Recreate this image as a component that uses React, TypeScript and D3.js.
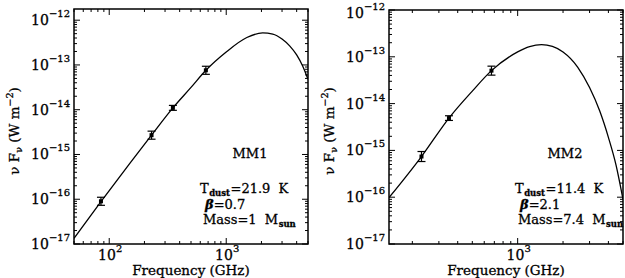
import React from "react";
import * as d3 from "d3";

// MM1 measured points (GHz, W m^-2) and error half-widths in dex
const MM1_FREQ = [85, 230, 350, 670];
const MM1_FLUX = [9e-17, 2.7e-15, 1.1e-14, 7.6e-14];
const MM1_ERR_DEX = [0.09, 0.09, 0.055, 0.09];

// MM1 fitted SED
const MM1_CURVE_FREQ = [50, 85, 150, 230, 350, 500, 670, 1000, 1500, 2050, 2500, 3000, 3500, 4000, 4500, 5000];
const MM1_CURVE_FLUX = [
  1.34e-17, 8.8e-17, 6.3e-16, 2.7e-15, 1.1e-14, 3.15e-14, 7.6e-14, 1.95e-13, 4.1e-13, 5.2e-13, 4.9e-13,
  3.8e-13, 2.64e-13, 1.68e-13, 9.5e-14, 4.8e-14,
];

// MM2 measured points
const MM2_FREQ = [230, 350, 670];
const MM2_FLUX = [7.4e-16, 4.9e-15, 5.06e-14];
const MM2_ERR_DEX = [0.107, 0.05, 0.096];

// MM2 fitted SED
const MM2_CURVE_FREQ = [140, 230, 350, 500, 670, 1000, 1200, 1440, 1700, 2000, 2500, 3000, 3500, 4000, 4500, 5000];
const MM2_CURVE_FLUX = [
  9.8e-17, 7.4e-16, 4.9e-15, 1.85e-14, 5.06e-14, 1.27e-13, 1.65e-13, 1.82e-13, 1.67e-13, 1.27e-13, 6.05e-14,
  2.2e-14, 7e-15, 1.9e-15, 4.8e-16, 9e-17,
];

const FONT = "'DejaVu Serif', serif";
const TXT = { stroke: "#000", strokeWidth: 0.3 };

interface PanelProps {
  id: string;
  x0: number;
  x1: number;
  y0: number;
  y1: number;
  xDomain: [number, number];
  yDomain: [number, number];
  curveF: number[];
  curveS: number[];
  ptF: number[];
  ptS: number[];
  ptE: number[];
  name: string;
  tdust: string;
  beta: string;
  mass: string;
}

function logTicks(d0: number, d1: number) {
  const out: { v: number; major: boolean }[] = [];
  for (let k = Math.floor(Math.log10(d0)); k <= Math.ceil(Math.log10(d1)); k++) {
    for (let j = 1; j <= 9; j++) {
      const v = j * Math.pow(10, k);
      if (v >= d0 * 0.999 && v <= d1 * 1.001) out.push({ v, major: j === 1 });
    }
  }
  return out;
}

const Panel: React.FC<PanelProps> = (p) => {
  const xs = d3.scaleLog().domain(p.xDomain).range([p.x0, p.x1]);
  const ys = d3.scaleLog().domain(p.yDomain).range([p.y1, p.y0]);

  const line = d3
    .line<number>()
    .x((_, i) => xs(p.curveF[i]))
    .y((_, i) => ys(p.curveS[i]))
    .curve(d3.curveMonotoneX);

  const xt = logTicks(p.xDomain[0], p.xDomain[1]);
  const yt = logTicks(p.yDomain[0], p.yDomain[1]);
  const major = 6;
  const minor = 3;
  const cx = (p.x0 + p.x1) / 2;

  return (
    <g fontFamily={FONT} fill="#000">
      <defs>
        <clipPath id={`clip-${p.id}`}>
          <rect x={p.x0} y={p.y0} width={p.x1 - p.x0} height={p.y1 - p.y0} />
        </clipPath>
      </defs>

      {/* x ticks, bottom and top */}
      {xt.map((t, i) => {
        const x = xs(t.v);
        const l = t.major ? major : minor;
        return (
          <g key={`xt${i}`} stroke="#000" strokeWidth={1}>
            <line x1={x} x2={x} y1={p.y1} y2={p.y1 - l} />
            <line x1={x} x2={x} y1={p.y0} y2={p.y0 + l} />
          </g>
        );
      })}
      {/* y ticks, left and right */}
      {yt.map((t, i) => {
        const y = ys(t.v);
        const l = t.major ? major : minor;
        return (
          <g key={`yt${i}`} stroke="#000" strokeWidth={1}>
            <line x1={p.x0} x2={p.x0 + l} y1={y} y2={y} />
            <line x1={p.x1} x2={p.x1 - l} y1={y} y2={y} />
          </g>
        );
      })}

      {/* x tick labels */}
      {xt
        .filter((t) => t.major)
        .map((t, i) => (
          <text key={`xl${i}`} x={xs(t.v) + 1} y={260} textAnchor="middle" fontSize={14} {...TXT}>
            10
            <tspan fontSize={10} dy={-8}>
              {Math.round(Math.log10(t.v))}
            </tspan>
          </text>
        ))}
      {/* y tick labels */}
      {yt
        .filter((t) => t.major)
        .map((t, i) => (
          <text
            key={`yl${i}`}
            x={p.x0 - 4}
            y={Math.max(ys(t.v) + 5, 18)}
            textAnchor="end"
            fontSize={14}
            {...TXT}
          >
            10
            <tspan fontSize={10} dy={-8}>
              {"\u2212" + Math.abs(Math.round(Math.log10(t.v)))}
            </tspan>
          </text>
        ))}

      {/* axis titles */}
      <text x={cx} y={275} textAnchor="middle" fontSize={13.5} {...TXT}>
        Frequency (GHz)
      </text>
      <text transform={`translate(${p.x0 - 55},131) rotate(-90)`} textAnchor="middle" fontSize={13.5} {...TXT}>
        {"\u03bd F"}
        <tspan fontSize={9.5} dy={3}>
          {"\u03bd"}
        </tspan>
        <tspan dy={-3}>{" (W m"}</tspan>
        <tspan fontSize={9.5} dy={-6}>
          {"\u22122"}
        </tspan>
        <tspan dy={6}>)</tspan>
      </text>

      {/* model curve */}
      <path
        d={line(p.curveF) ?? ""}
        fill="none"
        stroke="#000"
        strokeWidth={1.3}
        clipPath={`url(#clip-${p.id})`}
      />

      {/* data points with error bars */}
      {p.ptF.map((f, i) => {
        const x = xs(f);
        const y = ys(p.ptS[i]);
        const yLo = ys(p.ptS[i] / Math.pow(10, p.ptE[i]));
        const yHi = ys(p.ptS[i] * Math.pow(10, p.ptE[i]));
        return (
          <g key={`pt${i}`} stroke="#000" strokeWidth={1.2}>
            <line x1={x} x2={x} y1={yLo} y2={yHi} />
            <line x1={x - 4} x2={x + 4} y1={yLo} y2={yLo} />
            <line x1={x - 4} x2={x + 4} y1={yHi} y2={yHi} />
            <rect x={x - 2} y={y - 2} width={4} height={4} fill="#000" stroke="none" />
          </g>
        );
      })}

      {/* annotations */}
      <text x={p.x0 + 176} y={158} textAnchor="middle" fontSize={13} {...TXT}>
        {p.name}
      </text>
      <text x={p.x0 + 126} y={193} fontSize={13} {...TXT}>
        T
        <tspan fontSize={8.5} dy={2.5} dx={0.5} fontWeight="bold">
          dust
        </tspan>
        <tspan dy={-2.5} dx={0.5}>
          {"=" + p.tdust + "\u00a0 K"}
        </tspan>
      </text>
      <text x={p.x0 + 131} y={209} fontSize={13} {...TXT}>
        <tspan fontStyle="italic" fontWeight="bold">
          {"\u03b2"}
        </tspan>
        {"=" + p.beta}
      </text>
      <text x={p.x0 + 129} y={224} fontSize={13} {...TXT}>
        {"Mass=" + p.mass + "\u00a0 M"}
        <tspan fontSize={8.5} dy={2.5} dx={0.5} fontWeight="bold">
          sun
        </tspan>
      </text>

      {/* frame */}
      <rect
        x={p.x0}
        y={p.y0}
        width={p.x1 - p.x0}
        height={p.y1 - p.y0}
        fill="none"
        stroke="#000"
        strokeWidth={1.5}
      />
    </g>
  );
};

export default function App() {
  return (
    <svg
      width={625}
      height={278}
      style={{ position: "absolute", left: 0, top: 0, background: "#fff" }}
    >
      <rect width={625} height={278} fill="#fff" />
      <Panel
        id="mm1"
        x0={74}
        x1={308}
        y0={9}
        y1={244}
        xDomain={[50, 5000]}
        yDomain={[1e-17, Math.pow(10, -11.75)]}
        curveF={MM1_CURVE_FREQ}
        curveS={MM1_CURVE_FLUX}
        ptF={MM1_FREQ}
        ptS={MM1_FLUX}
        ptE={MM1_ERR_DEX}
        name="MM1"
        tdust="21.9"
        beta="0.7"
        mass="1"
      />
      <Panel
        id="mm2"
        x0={389}
        x1={623}
        y0={10}
        y1={244}
        xDomain={[140, 5000]}
        yDomain={[1e-17, 1e-12]}
        curveF={MM2_CURVE_FREQ}
        curveS={MM2_CURVE_FLUX}
        ptF={MM2_FREQ}
        ptS={MM2_FLUX}
        ptE={MM2_ERR_DEX}
        name="MM2"
        tdust="11.4"
        beta="2.1"
        mass="7.4"
      />
    </svg>
  );
}
